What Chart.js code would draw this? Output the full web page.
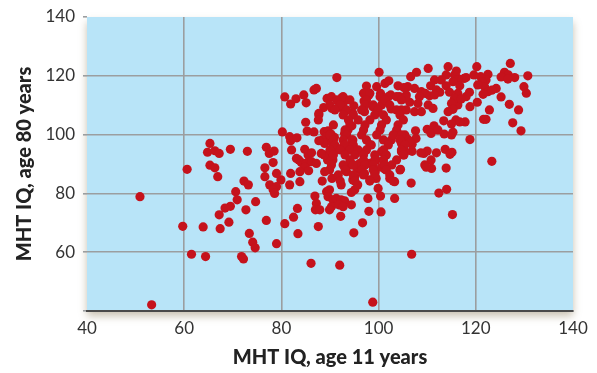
<!DOCTYPE html>
<html>
<head>
<meta charset="utf-8">
<script src="https://cdn.jsdelivr.net/npm/chart.js@4.4.1/dist/chart.umd.min.js"></script>
<style>
  html, body { margin: 0; padding: 0; background: #fff; }
  #wrap { width: 597px; height: 373px; }
</style>
</head>
<body>
<div id="wrap"><canvas id="iqChart" width="597" height="373"></canvas></div>
<script>
// [MHT IQ at age 11, MHT IQ at age 80]
const lowerLeft = [
  [50.9,78.9],[53.3,42.1],[60.6,88.2],[65.3,97],[64.8,94],[66.3,94.5],[67.2,93.6],[69.5,95],
  [73,94.3],[65.3,89.6],[66.3,88.7],[66.9,85.7],[72.3,84.2],[73.2,82.9],[70.6,80.6],[70.9,77.8],
  [69.5,75.6],[68.4,75],[67.2,72.7],[72.7,74.4],[59.7,68.8],[63.9,68.6],[67.4,68],[69.2,70.2],
  [73.4,66.4],[61.5,59.3],[64.4,58.5],[71.8,58.5],[72.2,57.7],[74.1,63.4],[74.6,61.5],[76.9,70.8],
  [79,62.9],[80.7,69.7],[82.5,71.9],[83.4,66.3],[87.6,68.7],[86.1,56.2],[92,55.6],[92.2,72.2],
  [94.9,66.6],[96.7,70],[98,73.9],[100.5,73.7],[98.8,43],[115.2,72.8],[106.8,59.3]
];
const rightMiddle = [
  [112.4,80.1],[114,81.4],[106.7,83.5],[123.3,90.9],[118.8,98.3],[113.9,88.6],[110.9,88.5],[110.8,91.4],
  [109.5,89.7],[109.8,88.9],[109.3,93.6],[110,94.4],[108.7,93.8],[111.9,93.8],[113.7,95],[115.1,94],
  [114.7,93.3],[106.9,94.3],[105.5,94.2],[127.6,104],[129.3,101.3],[121.6,105.2],[122.1,105.2],[122.8,108.4],
  [128.8,108.4],[107.6,101.3],[107.7,98.7],[106.9,96.7],[106,98.4],[106.4,97.6],[105.4,99.9],[113.4,104.7],
  [111.4,103],[110,101.8],[110.8,100.4],[113.5,100.2],[115,99.9],[115.3,100.8],[117.8,104.3],[116.7,104.3],
  [115.9,105],[115,103.6],[112.2,101.6]
];
const upperRight = [
  [127.1,124.2],[130.7,120],[129.9,116.3],[130.4,114.1],[126.9,110.3],[125.2,112.8],[124.2,115.7],[125.9,121.2],
  [126.7,120.3],[128,119.4],[125.2,119.6],[126.6,118.9],[120.2,123.1],[122.5,120.5],[122.1,118.6],[121,119.7],
  [121.3,118],[119.6,120.3],[121.8,116.3],[120.4,116.9],[122.5,114.6],[121.5,113.7],[123.3,115.1],[120.3,111],
  [118.8,109.5],[116.3,110.1],[118,112.9],[118.7,114.4],[117.6,119.1],[118,119.4],[116.3,119.1],[115.6,120.3],
  [114.3,123.1],[116,121.6],[113.9,120.3],[115.3,118],[116.7,116.6],[113.9,116.6],[114.6,114.4],[116.3,114],
  [115.6,112.3],[117,112.1],[115,110.6],[115.3,108.6],[112.9,118.6],[111.5,118.6],[110.2,122.5],[107.8,121.2],
  [106.6,119.7],[110.7,116.6],[111.9,115.2],[112.6,114.4],[107.4,115.7],[108.8,114.6],[109.6,114],[108.4,112.9],
  [110.5,113.2],[111.5,113.5],[106,116.3],[105.7,113.5],[106.4,111],[108.1,110.6],[110.2,110.1],[111.2,108.9],
  [105.7,108.4],[107.4,107.8],[108.8,107.8],[114.3,107.8]
];
const upperMiddle = [
  [91.4,119.4],[100.1,121.2],[80.7,112.8],[81.9,110.4],[83,112.2],[84.6,113.5],[85.1,110.8],[86.7,115.2],
  [87.2,115.7],[89.4,112.3],[88.7,109.2],[87.7,107.2],[90.4,108.9],[92.5,112.6],[93,112.1],[92.7,110.6],
  [91.7,109.2],[94.9,109.8],[97,111.4],[98,113.5],[97.5,116.5],[99.6,116.3],[101.3,117.4],[102.1,118.3],
  [100.4,114],[102.5,113.5],[104,116.6],[105.2,116],[104.3,112.9],[105.6,112.6],[98.8,109.5],[100.6,110.1],
  [102.6,108.7],[104.7,108.4],[93,107.8],[94.7,107.2],[97.1,107.8]
];
const centreLeft = [
  [80.2,100.9],[81.7,99.3],[81.9,97.9],[83.2,98.9],[85,104.2],[85.3,101.2],[86.7,100.9],[87.7,106.7],
  [87.6,105],[88.8,101],[89.6,101.3],[90.2,100.2],[89.3,99.3],[88.4,98.2],[88.9,97],[90.4,97.4],
  [90.9,99.1],[87.7,97.9],[93,100.4],[93.7,101.6],[94.5,103],[92.7,95.9],[93.4,94.8],[94.3,96.5],
  [94.7,98.2],[91,94.8],[90,93.1],[90.6,91.4],[89.5,91.4],[88.8,93.1],[88.2,93.6],[90.3,89.7],
  [89.9,88],[88.9,87.4],[90.4,85.1],[88.4,84.2],[85.5,93.1],[84.8,95],[86.2,93.8],[83.6,91.4],
  [84.1,90.5],[85.1,90.2],[86.2,90.8],[87.2,90.2],[84.8,88.9],[85.6,87.7],[82.1,94.8],[83.1,91.9],
  [83.8,87.4],[81.9,86.8],[83.8,84],[81.7,82.9],[79.9,84.6],[79,86.8],[76.6,88.7],[76.6,85.7],
  [77.6,82.9],[79,82.3],[78.3,81.2],[78.6,80],[76.9,95.7],[77.5,93.6],[78.5,94.4],[78.3,90.5],
  [74.7,77.2],[83.3,74.9],[86.9,79.1],[87.2,76.6],[87,74.4],[87.9,74.4],[89.3,80.6],[89.9,81.2],
  [89.6,78.9],[90.6,77.8],[90.3,75.5],[89.9,74.4],[91.3,78.3],[92.3,77.8],[93,77.5],[91.8,76.1],
  [92.7,75.5],[94.4,76.1],[92.3,82.9],[93.4,87.4],[94.7,84.6],[95.1,85.7],[95.1,81.2],[94.4,80.3],
  [95.7,82.9],[94.1,89.7],[94.7,89.7],[95.6,88.5],[96.5,87.4],[97.1,86.8],[96.1,90.2],[97.8,78.3],
  [99.9,81.7],[100.4,79.1],[98.2,84.6],[99.3,87.4],[99.5,85.1],[98.2,90.2],[100.6,88.9],[101.3,88.2],
  [102.3,85.1],[103.3,84],[104.5,88.2],[103.3,78.3],[104.7,94.2],[105.2,93.1],[100.6,94.2],[101.3,93.1],
  [99.5,91.4],[104.7,97],[98.5,96.5],[102.6,98.2]
];
const core = [
  [96.9,114.1],[98.2,114.1],
  [90.3,112.9],[92.7,112.9],[100.3,112.9],[102,112.9],[103.7,112.9],
  [91.4,111.8],[94.1,111.8],[97.5,111.8],[101.3,111.8],[104.7,111.8],
  [90,110.1],[92.1,110.1],[97.2,110.1],[98.9,110.1],[102.3,110.1],
  [91,108.4],[93.4,108.4],[96.5,108.4],[99.9,108.4],[103.7,108.4],
  [92.7,106.7],[94.8,106.7],[99.2,106.7],[101,106.7],[104.4,106.7],
  [93.8,105],[95.8,105],[98.2,105],[101.6,105],[105.1,105],
  [90.7,103.3],[94.1,103.3],[97.2,103.3],[100.6,103.3],[104,103.3],
  [93.1,101.6],[96.9,101.6],[100.3,101.6],[103.7,101.6],
  [90,99.9],[93.4,99.9],[96.5,99.9],[99.6,99.9],[103,99.9],[104.7,99.9],
  [90.7,98.2],[92.7,98.2],[94.5,98.2],[97.5,98.2],[101,98.2],[104.4,98.2],
  [91,96.5],[93.1,96.5],[94.8,96.5],[98.2,96.5],[102,96.5],[105.4,96.5],
  [90,94.8],[92.1,94.8],[94.1,94.8],[95.8,94.8],[97.5,94.8],[101,94.8],[104.7,94.8],
  [90.7,93.1],[93.1,93.1],[95.1,93.1],[96.9,93.1],[99.2,93.1],[101.6,93.1],[105.1,93.1],
  [94.1,91.4],[96.9,91.4],[99.2,91.4],[101,91.4],[103.7,91.4],
  [92.7,89.7],[94.8,89.7],[97.2,89.7],[98.9,89.7],[101.3,89.7],[102.7,89.7],
  [93.1,88],[96.5,88],[98.9,88],[101.6,88],[104.4,88],
  [91.7,86.3],[94.8,86.3],[96.9,86.3],[99.2,86.3],[102.3,86.3],
  [92.1,84.2],[95.1,84.2],[98.2,84.2],[103,84.2]
];

const xTicks = [40, 60, 80, 100, 120, 140];
const yTicks = [40, 60, 80, 100, 120, 140];

const allPoints = [...lowerLeft, ...rightMiddle, ...upperRight, ...upperMiddle, ...centreLeft, ...core]
  .map(([x, y]) => ({ x: x, y: y }));

const plotBackground = {
  id: "plotBackground",
  beforeDraw(chart) {
    const { ctx, chartArea } = chart;
    ctx.save();
    ctx.shadowColor = "rgba(120, 100, 60, 0.4)";
    ctx.shadowBlur = 8;
    ctx.shadowOffsetY = 5;
    ctx.fillStyle = "#b8e4f8";
    ctx.fillRect(chartArea.left, chartArea.top, chartArea.width, chartArea.height);
    ctx.restore();
  },
};

const edgeFree = (ctx) => {
  const v = ctx.tick && ctx.tick.value;
  return v === 40 || v === 140 ? "rgba(0,0,0,0)" : "#9b9ea0";
};

new Chart(document.getElementById("iqChart"), {
  type: "scatter",
  data: {
    datasets: [{
      data: allPoints,
      backgroundColor: "#c5121c",
      borderWidth: 0,
      pointRadius: 4.6,
      pointHoverRadius: 4.6,
    }],
  },
  options: {
    responsive: false,
    animation: false,
    events: [],
    layout: { padding: { left: 0, right: 24, top: 17, bottom: 0 } },
    plugins: { legend: { display: false }, tooltip: { enabled: false } },
    scales: {
      x: {
        type: "linear",
        min: 40,
        max: 140,
        afterBuildTicks: (s) => { s.ticks = xTicks.map((v) => ({ value: v })); },
        afterFit: (s) => { s.height = 62; s.paddingLeft = 0; s.paddingRight = 0; },
        grid: { color: edgeFree, lineWidth: 1.6, drawTicks: false },
        border: { display: true, color: "#4a4a4a", width: 2 },
        ticks: {
          padding: 7,
          color: "#333",
          font: { family: "Lato", size: 17 },
        },
        title: {
          display: true,
          text: "MHT IQ, age 11 years",
          color: "#222",
          font: { family: "Lato", size: 20, weight: "900" },
          padding: { top: 0, bottom: 3 },
        },
      },
      y: {
        type: "linear",
        min: 40,
        max: 140,
        afterBuildTicks: (s) => { s.ticks = yTicks.map((v) => ({ value: v })); },
        afterFit: (s) => { s.width = 87; s.paddingTop = 0; s.paddingBottom = 0; },
        grid: { color: edgeFree, tickColor: "#9b9ea0", lineWidth: 1.6, tickLength: 4 },
        border: { display: false },
        ticks: {
          padding: 8,
          color: "#333",
          font: { family: "Lato", size: 17 },
          callback: (v) => (v === 40 ? "" : v),
        },
        title: {
          display: true,
          text: "MHT IQ, age 80 years",
          color: "#222",
          font: { family: "Lato", size: 20, weight: "900" },
          padding: { top: 13, bottom: 0 },
        },
      },
    },
  },
  plugins: [plotBackground],
});
</script>
</body>
</html>
